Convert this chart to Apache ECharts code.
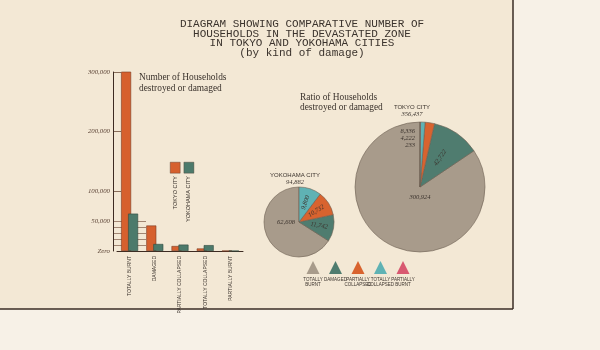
<!DOCTYPE html>
<html>
<head>
<meta charset="utf-8">
<script src="https://cdn.jsdelivr.net/npm/echarts@6/dist/echarts.min.js"></script>
<style>
  html, body { margin: 0; padding: 0; background: #f7f1e7; }
  #main { width: 600px; height: 350px; }
</style>
</head>
<body>
<div id="main"></div>
<script>
// kinds of damage, in the bar axis order
const categories = ['TOTALLY BURNT', 'DAMAGED', 'PARTIALLY COLLAPSED', 'TOTALLY COLLAPSED', 'PARTIALLY BURNT'];
const legendNames = ['TOTALLY\nBURNT', 'DAMAGED', 'PARTIALLY\nCOLLAPSED', 'TOTALLY\nCOLLAPSED', 'PARTIALLY\nBURNT'];
// households destroyed or damaged
const tokyo = [300924, 42722, 8336, 4222, 233];
const yokohama = [62608, 11742, 10732, 9800, 0];
// y axis labels
const yTicks = [0, 50000, 100000, 200000, 300000];
const yTickLabels = ['Zero', '50,000', '100,000', '200,000', '300,000'];

const sliceColors = ['#a89b8b', '#4f7c6f', '#d8632f', '#5fb2b4', '#d85870'];
const cityColors = ['#d6602e', '#4c7a6b'];
const ink = '#3b332d';

const fmt = v => v.toLocaleString('en-US');
const sum = arr => arr.reduce((a, b) => a + b, 0);

const tokyoCenter = [420, 187];
const yokoCenter = [299, 222];

function pieData(values) {
    return categories.map((c, i) => ({name: c, value: values[i], itemStyle: {color: sliceColors[i]}}))
        .filter(d => d.value > 0);
}

const myChart = echarts.init(document.getElementById('main'));

// short guide lines near the y axis (10k steps up to 50k, then at the hundred-thousands)
const lowLines = [], bigLines = [];
for (let i = 0; i <= 30; i++) {
    lowLines.push(i >= 1 && i <= 5 ? '#8b6b58' : 'rgba(0,0,0,0)');
    bigLines.push(i === 10 || i === 20 || i === 30 ? '#6b4b38' : 'rgba(0,0,0,0)');
}

const labelFont = {fontFamily: 'Liberation Serif', fontStyle: 'italic', fontSize: 6.5, color: ink};

myChart.setOption({
    backgroundColor: '#f7f1e7',
    animation: false,
    title: [
        {
            text: 'DIAGRAM SHOWING COMPARATIVE NUMBER OF\nHOUSEHOLDS IN THE DEVASTATED ZONE\nIN TOKYO AND YOKOHAMA CITIES\n(by kind of damage)',
            left: 302, top: 19, textAlign: 'center', padding: 0,
            textStyle: {fontFamily: 'Liberation Mono', fontWeight: 'normal', fontSize: 11, lineHeight: 9.8, color: ink}
        },
        {
            text: 'Number of Households\ndestroyed or damaged',
            left: 139, top: 72, padding: 0,
            textStyle: {fontFamily: 'Liberation Serif', fontWeight: 'normal', fontSize: 9.4, lineHeight: 11, color: ink}
        },
        {
            text: 'Ratio of Households\ndestroyed or damaged',
            left: 300, top: 92, padding: 0,
            textStyle: {fontFamily: 'Liberation Serif', fontWeight: 'normal', fontSize: 9.4, lineHeight: 10.5, color: ink}
        },
        {
            text: 'TOKYO CITY', subtext: fmt(sum(tokyo)),
            left: 412, top: 104, textAlign: 'center', itemGap: 1, padding: 0,
            textStyle: {fontFamily: 'Liberation Sans', fontWeight: 'normal', fontSize: 6, color: ink},
            subtextStyle: labelFont
        },
        {
            text: 'YOKOHAMA CITY', subtext: fmt(sum(yokohama)),
            left: 295, top: 172, textAlign: 'center', itemGap: 1, padding: 0,
            textStyle: {fontFamily: 'Liberation Sans', fontWeight: 'normal', fontSize: 6, color: ink},
            subtextStyle: labelFont
        }
    ],
    legend: [
        {
            data: ['TOKYO CITY', 'YOKOHAMA CITY'],
            left: 170, top: 162, orient: 'horizontal', padding: 0,
            icon: 'rect', itemWidth: 10, itemHeight: 11, itemGap: 3.3,
            formatter: () => '', selectedMode: false,
            itemStyle: {borderWidth: 0.4, borderColor: '#4a3a30'}
        },
        {
            data: categories,
            left: 306.5, top: 261, padding: 0,
            icon: 'triangle', itemWidth: 13, itemHeight: 13, itemGap: 9.5,
            formatter: () => '', selectedMode: false,
            itemStyle: {borderWidth: 0}
        }
    ],
    grid: [
        {left: 117, top: 72, width: 126, height: 179},
        {left: 113, top: 72, width: 33, height: 179},
        {left: 113, top: 72, width: 8, height: 179}
    ],
    xAxis: [
        {
            type: 'category', gridIndex: 0, data: categories,
            axisLine: {lineStyle: {color: '#3d2b22', width: 1}},
            axisTick: {show: false},
            axisLabel: {rotate: 90, fontSize: 5, fontFamily: 'Liberation Sans', color: ink, margin: 5}
        },
        {type: 'value', gridIndex: 1, show: false},
        {type: 'value', gridIndex: 2, show: false}
    ],
    yAxis: [
        {
            type: 'value', gridIndex: 0, min: 0, max: 300000, interval: 10000, offset: 4,
            axisLine: {show: true, lineStyle: {color: '#3d2b22', width: 1}},
            axisTick: {show: false},
            splitLine: {show: false},
            axisLabel: {
                margin: 3, fontFamily: 'Liberation Serif', fontStyle: 'italic', fontSize: 6.8, color: '#5a4234',
                formatter: v => {
                    const k = yTicks.indexOf(v);
                    return k >= 0 ? yTickLabels[k] : '';
                }
            }
        },
        {
            type: 'value', gridIndex: 1, min: 0, max: 300000, interval: 10000,
            axisLine: {show: false}, axisLabel: {show: false}, axisTick: {show: false},
            splitLine: {show: true, lineStyle: {color: lowLines, width: 0.8}}
        },
        {
            type: 'value', gridIndex: 2, min: 0, max: 300000, interval: 10000,
            axisLine: {show: false}, axisLabel: {show: false}, axisTick: {show: false},
            splitLine: {show: true, lineStyle: {color: bigLines, width: 0.8}}
        }
    ],
    series: [
        {
            name: 'TOKYO CITY', type: 'bar', xAxisIndex: 0, yAxisIndex: 0,
            data: tokyo, barWidth: 10, barGap: '-30%',
            itemStyle: {color: cityColors[0], borderColor: '#7a3a22', borderWidth: 0.6}
        },
        {
            name: 'YOKOHAMA CITY', type: 'bar', xAxisIndex: 0, yAxisIndex: 0,
            data: yokohama, barWidth: 10,
            itemStyle: {color: cityColors[1], borderColor: '#2f4a40', borderWidth: 0.6}
        },
        {
            name: 'tokyoPie', type: 'pie', center: tokyoCenter, radius: 65,
            startAngle: 90, clockwise: false,
            itemStyle: {borderColor: '#6d5f52', borderWidth: 0.6},
            label: Object.assign({show: true, position: 'inside', rotate: 'radial', formatter: p => fmt(p.value)}, labelFont),
            labelLine: {show: true, length: 4, length2: 4, lineStyle: {color: '#4a3f38', width: 0.5}},
            data: pieData(tokyo).map((d, i) => {
                if (i === 0) d.label = {position: 'center', rotate: 0};
                if (i >= 2) d.label = {position: 'outside', rotate: 0};
                return d;
            }),
            labelLayout: p => {
                if (p.dataIndex === 0) return {dy: 10};
                if (p.dataIndex >= 2) {
                    const y = tokyoCenter[1] - 56 + (p.dataIndex - 2) * 7;
                    const x = tokyoCenter[0] - 5;
                    const wx = p.rect.x + p.rect.width / 2;
                    return {
                        x: x, y: y, align: 'right', verticalAlign: 'middle',
                        labelLinePoints: [[x + 1, y], [wx, y], [wx, y]]
                    };
                }
            }
        },
        {
            name: 'yokohamaPie', type: 'pie', center: yokoCenter, radius: 35,
            startAngle: 90, clockwise: false,
            itemStyle: {borderColor: '#6d5f52', borderWidth: 0.6},
            label: Object.assign({show: true, position: 'inside', rotate: 'radial', formatter: p => fmt(p.value)}, labelFont),
            labelLine: {show: false},
            data: pieData(yokohama).map((d, i) => {
                if (i === 0) d.label = {position: 'center', rotate: 0};
                return d;
            }),
            labelLayout: p => {
                if (p.dataIndex === 0) return {dx: -13};
            }
        }
    ],
    graphic: [
        {type: 'rect', silent: true, z: -10, shape: {x: 0, y: 0, width: 513, height: 309}, style: {fill: '#f3e8d5'}},
        {type: 'line', silent: true, shape: {x1: 0, y1: 309, x2: 513, y2: 309}, style: {stroke: '#3a2c24', lineWidth: 1.5}},
        {type: 'line', silent: true, shape: {x1: 513, y1: 0, x2: 513, y2: 309}, style: {stroke: '#3a2c24', lineWidth: 1.5}},
        {
            type: 'text', silent: true, x: 175, y: 176, rotation: Math.PI / 2,
            style: {text: 'TOKYO CITY', align: 'right', verticalAlign: 'middle', font: '5.5px "Liberation Sans"', fill: ink}
        },
        {
            type: 'text', silent: true, x: 188, y: 176, rotation: Math.PI / 2,
            style: {text: 'YOKOHAMA CITY', align: 'right', verticalAlign: 'middle', font: '5.5px "Liberation Sans"', fill: ink}
        }
    ].concat(legendNames.map((n, i) => ({
        type: 'text', silent: true, x: 313 + i * 22.5, y: 277,
        style: {text: n, align: 'center', verticalAlign: 'top', font: '4.5px "Liberation Sans"', lineHeight: 5, fill: ink}
    })))
});
</script>
</body>
</html>
